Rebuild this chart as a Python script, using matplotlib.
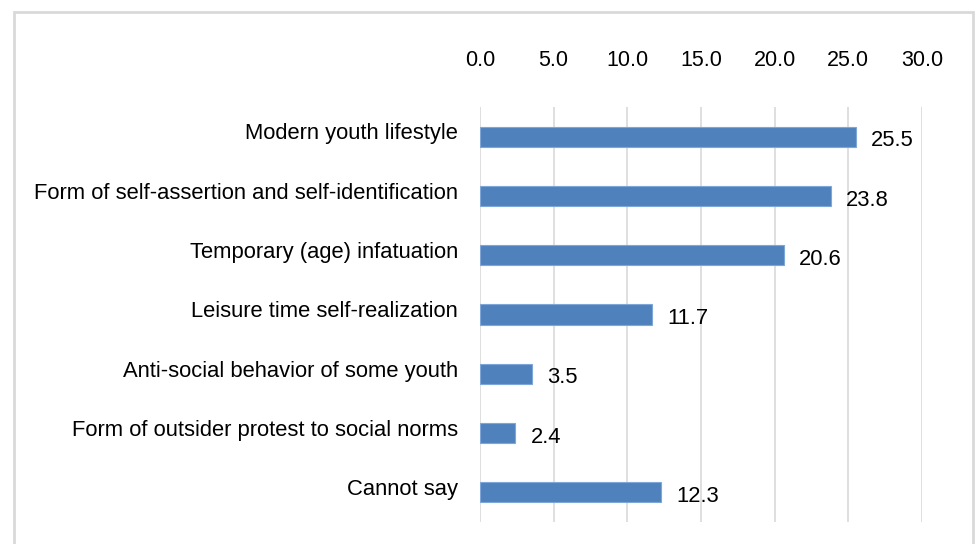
import matplotlib
matplotlib.use("Agg")
import matplotlib.pyplot as plt
from matplotlib.patches import Rectangle

# survey answers, share of respondents (%)
categories = [
    "Modern youth lifestyle",
    "Form of self-assertion and self-identification",
    "Temporary (age) infatuation",
    "Leisure time self-realization",
    "Anti-social behavior of some youth",
    "Form of outsider protest to social norms",
    "Cannot say",
]
values = [25.5, 23.8, 20.6, 11.7, 3.5, 2.4, 12.3]
ticks = [0, 5, 10, 15, 20, 25, 30]
tick_labels = ["0.0", "5.0", "10.0", "15.0", "20.0", "25.0", "30.0"]

plt.rcParams["font.family"] = ["Liberation Sans", "DejaVu Sans"]

fig = plt.figure(figsize=(9.76, 5.44), dpi=100)
ax = fig.add_axes([480 / 976, 1 - 522 / 544, 442 / 976, 415 / 544])

ypos = list(range(len(categories)))
ax.barh(ypos, values, height=0.34, color="#4f81bd", edgecolor="#7ea6d8",
        linewidth=0.8, zorder=3)
ax.set_ylim(len(categories) - 0.5, -0.5)
ax.set_xlim(0, 30)

ax.xaxis.tick_top()
ax.set_xticks(ticks)
ax.set_xticklabels(tick_labels, fontsize=15.5)
ax.tick_params(axis="x", length=0, pad=26)
ax.set_yticks([])
ax.grid(axis="x", color="#d9d9d9", linewidth=1.2, zorder=0)
for s in ax.spines.values():
    s.set_visible(False)

for y, name, v in zip(ypos, categories, values):
    ax.annotate(name, (0, y), xytext=(-16, 2), textcoords="offset points",
                ha="right", va="center", fontsize=15.8)
    ax.annotate(f"{v:.1f}", (v, y), xytext=(11, -3), textcoords="offset points",
                ha="left", va="center", fontsize=15.8)

fig.patches.append(Rectangle((14 / 976, -0.05), (973 - 14) / 976, 1.05 - 12 / 544,
                             transform=fig.transFigure, fill=False,
                             edgecolor="#d9d9d9", linewidth=2))

fig.savefig("out.png", dpi=100)
